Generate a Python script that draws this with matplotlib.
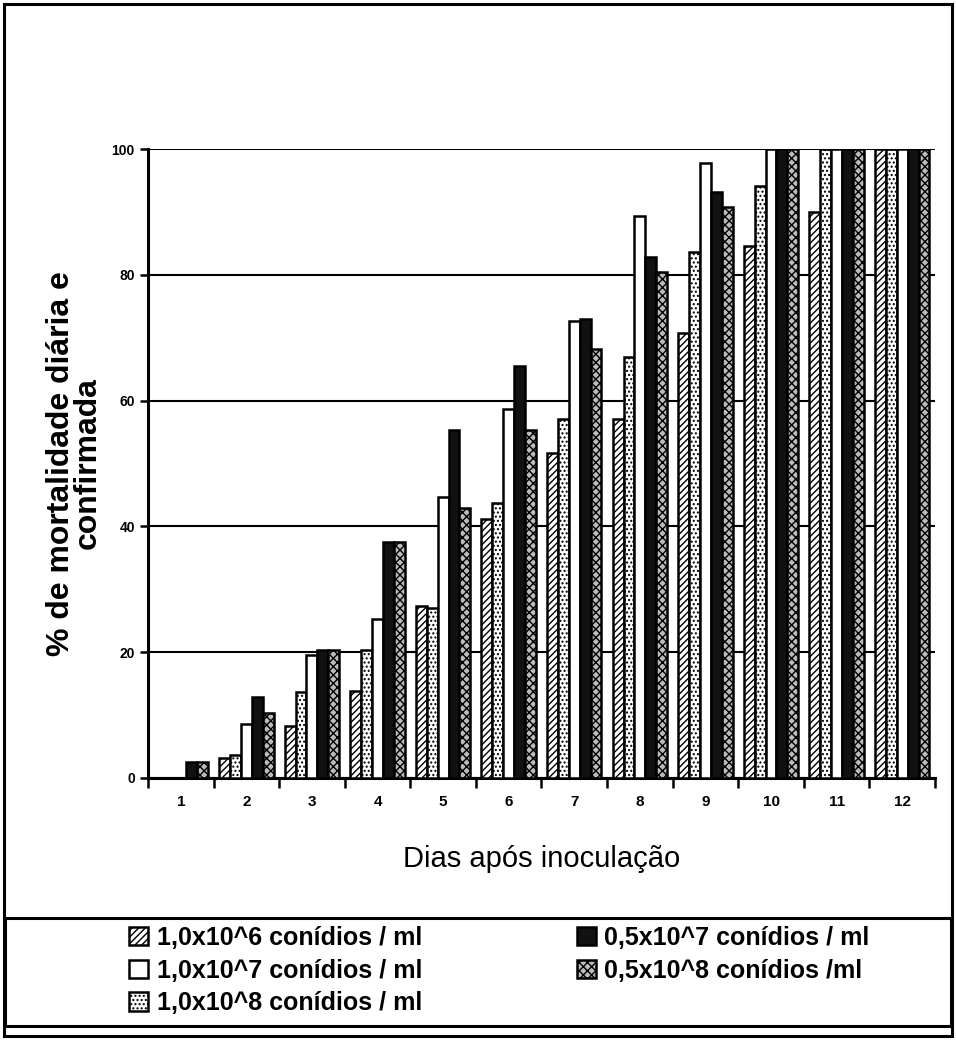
import numpy as np
import matplotlib
matplotlib.use("Agg")
import matplotlib.pyplot as plt
from matplotlib.patches import Rectangle

plt.rcParams["font.family"] = ["Liberation Sans", "DejaVu Sans"]
plt.rcParams["hatch.linewidth"] = 1.0

days = [str(d) for d in range(1, 13)]

# % mortalidade por serie (ordem das barras em cada dia)
s_1e6 = [0, 3.2, 8.3, 13.8, 27.3, 41.2, 51.7, 57.0, 70.7, 84.5, 90.0, 100]
s_1e8 = [0, 3.6, 13.7, 20.3, 27.0, 43.7, 57.1, 67.0, 83.7, 94.1, 100, 100]
s_1e7 = [0, 8.6, 19.6, 25.3, 44.7, 58.7, 72.7, 89.3, 97.7, 100, 100, 100]
s_05e7 = [2.6, 12.8, 20.3, 37.5, 55.3, 65.5, 73.0, 82.9, 93.1, 100, 100, 100]
s_05e8 = [2.6, 10.4, 20.3, 37.5, 42.9, 55.3, 68.2, 80.4, 90.8, 100, 100, 100]

labels = {
    "1e6": "1,0x10^6 conídios / ml",
    "1e7": "1,0x10^7 conídios / ml",
    "1e8": "1,0x10^8 conídios / ml",
    "05e7": "0,5x10^7 conídios / ml",
    "05e8": "0,5x10^8 conídios /ml",
}

series = [
    ("1e6", s_1e6, dict(facecolor="white", hatch="/////")),
    ("1e8", s_1e8, dict(facecolor="white", hatch="....")),
    ("1e7", s_1e7, dict(facecolor="white")),
    ("05e7", s_05e7, dict(facecolor="#111111")),
    ("05e8", s_05e8, dict(facecolor="#bbbbbb", hatch="xxxx")),
]

fig = plt.figure(figsize=(9.56, 10.42), dpi=100)
ax = fig.add_axes([0.1548, 0.2534, 0.8232, 0.6036])

x = np.arange(len(days))
w = 0.166
handles = {}
for i, (key, vals, style) in enumerate(series):
    b = ax.bar(x + (i - 2) * w, vals, width=w, edgecolor="black",
               linewidth=1.8, label=labels[key], zorder=3, **style)
    handles[key] = b

ax.set_xlim(-0.5, len(days) - 0.5)
ax.set_ylim(0, 100)
ax.set_yticks([0, 20, 40, 60, 80, 100])
ax.set_yticklabels(["0", "20", "40", "60", "80", "100"], fontsize=10, fontweight="bold")
ax.yaxis.grid(True, color="black", linewidth=1.5, zorder=0)
ax.set_axisbelow(True)

ax.set_xticks(x)
ax.set_xticklabels(days, fontsize=11, fontweight="bold")
ax.tick_params(axis="x", length=0, pad=12)
ax.set_xticks(np.arange(-0.5, len(days)), minor=True)
ax.tick_params(axis="x", which="minor", length=7, width=1.8, direction="out")
ax.tick_params(axis="y", length=6, width=1.8, direction="out")

for s in ["top", "right"]:
    ax.spines[s].set_visible(False)
for s in ["left", "bottom"]:
    ax.spines[s].set_linewidth(2.2)

ax.set_ylabel("% de mortalidade diária e\nconfirmada", fontsize=23, fontweight="bold",
              labelpad=6, linespacing=0.9)
ax.set_xlabel("Dias após inoculação", fontsize=21, labelpad=26)

order = ["1e6", "1e7", "1e8", "05e7", "05e8"]
leg = fig.legend([handles[k] for k in order], [labels[k] for k in order],
                 ncol=2, loc="upper left", bbox_to_anchor=(0.135, 0.1115),
                 frameon=False, fontsize=18, handlelength=0.75, handleheight=0.75,
                 handletextpad=0.35, labelspacing=0.35, columnspacing=6.2,
                 borderpad=0, borderaxespad=0)
for t in leg.get_texts():
    t.set_fontweight("bold")

# caixa da legenda e moldura da figura
fig.patches.append(Rectangle((0.005, 1 - 1026 / 1042), 0.99, 108 / 1042,
                             transform=fig.transFigure, fill=False,
                             edgecolor="black", linewidth=2.2))
fig.patches.append(Rectangle((0.004, 0.006), 0.992, 0.99, transform=fig.transFigure,
                             fill=False, edgecolor="black", linewidth=2.2))

fig.savefig("out.png", dpi=100)
